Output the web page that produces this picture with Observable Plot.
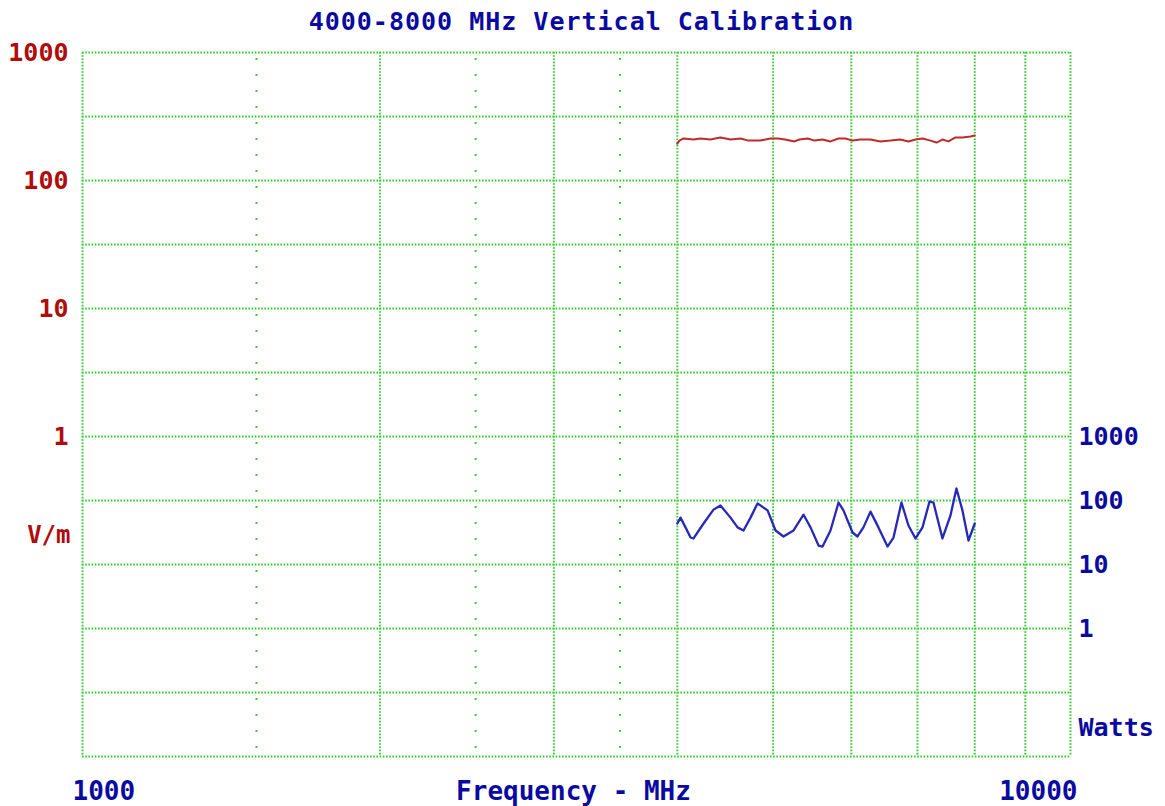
<!DOCTYPE html>
<html>
<head>
<meta charset="utf-8">
<script src="https://cdn.jsdelivr.net/npm/d3@7"></script>
<script src="https://cdn.jsdelivr.net/npm/@observablehq/plot@0.6"></script>
<style>
  html, body { margin: 0; padding: 0; background: #ffffff; }
  svg { display: block; }
</style>
</head>
<body>
<div id="chart"></div>
<script>
// ---- Data ----
const titleText = "4000-8000 MHz Vertical Calibration";
const xAxisTitle = "Frequency - MHz";

// E-field trace (V/m)
const fieldFreq = [4000,4020,4058,4154,4221,4320,4423,4528,4634,4722,4855,4969,5059,5141,5257,5316,5420,5508,5611,5716,5824,5918,6017,6130,6274,6423,6573,6727,6855,6968,7083,7217,7319,7420,7524,7648,7774,7921,8000];
const fieldVm   = [194,205,213,209,213,209,217,209,213,205,205,213,213,209,202,209,213,205,209,202,213,213,205,209,209,202,205,209,202,209,213,205,198,209,202,217,217,221,225];

// Forward power trace (Watts)
const powerFreq = [4000,4030,4077,4125,4154,4252,4352,4423,4528,4603,4667,4744,4822,4936,5029,5123,5244,5368,5456,5559,5611,5716,5824,5891,6017,6087,6172,6274,6392,6528,6620,6744,6855,6968,7083,7200,7266,7420,7559,7666,7774,7884,8000];
const powerW    = [43.7,54,38,26.4,25.5,43.7,72,83.5,54,38,34,54,90,70,34,27.4,34,60,38,19.8,19.1,34,93,70,31.6,27.4,38,67,38,19.1,26.4,93,40.7,25.5,38,96.5,93,25.5,58,154,70,23.7,43.7];

// Axes / grid
const vmTicks = [1000, 100, 10, 1];
const wattTicks = [1000, 100, 10, 1];
const hGridVm = [1000, 316.23, 100, 31.623, 10, 3.1623, 1, 0.31623, 0.1, 0.031623, 0.01, 0.0031623];
const majorFreqGrid = [1000, 2000, 3000, 4000, 5000, 6000, 7000, 8000, 9000, 10000];
const minorFreqGrid = [1500, 2500, 3500];
const xEndLabels = [1000, 10000];
const vmUnitLabel = {text: "V/m", value: 0.17};
const wattUnitLabel = {text: "Watts", value: 0.0053};

// ---- Helpers ----
const fieldData = fieldFreq.map((f, i) => ({f, v: fieldVm[i]}));
const powerData = powerFreq.map((f, i) => ({f, w: powerW[i]}));
const wattToVm = w => Math.sqrt(w / 1000); // same dB scale: 1 decade W = half decade V/m

const RED = "#b00c0c";
const BLUE = "#0a0aa0";
const GRID = "#33cc33";
const FONT = "DejaVu Sans Mono, monospace";

const chart = Plot.plot({
  width: 1165,
  height: 806,
  marginLeft: 82,
  marginRight: 95,
  marginTop: 52,
  marginBottom: 50,
  style: {background: "#ffffff", fontFamily: FONT},
  x: {type: "log", domain: [1000, 10000], axis: null},
  y: {type: "log", domain: [0.0031623, 1000], axis: null},
  marks: [
    Plot.ruleY(hGridVm, {y: d => d, stroke: GRID, strokeWidth: 2, strokeDasharray: "1.6 1.6"}),
    Plot.ruleX(majorFreqGrid, {x: d => d, stroke: GRID, strokeWidth: 2, strokeDasharray: "1.6 1.6"}),
    Plot.ruleX(minorFreqGrid, {x: d => d, stroke: GRID, strokeWidth: 2, strokeDasharray: "2 14", strokeDashoffset: -6}),
    Plot.line(fieldData, {x: "f", y: "v", stroke: "#c02a2a", strokeWidth: 2}),
    Plot.line(powerData, {x: "f", y: d => wattToVm(d.w), stroke: "#2828b8", strokeWidth: 2.3}),
    // Left V/m tick labels
    Plot.text(vmTicks, {y: d => d, text: d => String(d), frameAnchor: "left", textAnchor: "end", dx: -14,
      fill: RED, fontSize: 25, fontWeight: "bold", lineAnchor: "middle"}),
    Plot.text([vmUnitLabel], {y: "value", text: "text", frameAnchor: "left", textAnchor: "end", dx: -12,
      fill: RED, fontSize: 24, fontWeight: "bold", lineAnchor: "middle"}),
    // Right Watts tick labels
    Plot.text(wattTicks, {y: d => wattToVm(d), text: d => String(d), frameAnchor: "right", textAnchor: "start", dx: 8,
      fill: BLUE, fontSize: 25, fontWeight: "bold", lineAnchor: "middle"}),
    Plot.text([wattUnitLabel], {y: "value", text: "text", frameAnchor: "right", textAnchor: "start", dx: 8,
      fill: BLUE, fontSize: 25, fontWeight: "bold", lineAnchor: "middle"}),
    // Bottom labels
    Plot.text([xEndLabels[0]], {x: d => d, text: d => String(d), frameAnchor: "bottom", textAnchor: "start", dx: -10, dy: 35,
      fill: BLUE, fontSize: 26, fontWeight: "bold", lineAnchor: "middle"}),
    Plot.text([xEndLabels[1]], {x: d => d, text: d => String(d), frameAnchor: "bottom", textAnchor: "end", dx: 7, dy: 35,
      fill: BLUE, fontSize: 26, fontWeight: "bold", lineAnchor: "middle"}),
    Plot.text([xAxisTitle], {text: d => d, frameAnchor: "bottom", textAnchor: "middle", dx: -3, dy: 35,
      fill: BLUE, fontSize: 26, fontWeight: "bold", lineAnchor: "middle"}),
    // Title
    Plot.text([titleText], {text: d => d, frameAnchor: "top", textAnchor: "middle", dx: 5, dy: -31,
      fill: BLUE, fontSize: 25, fontWeight: "bold", lineAnchor: "middle"})
  ]
});
// widen the title slightly to match the reference's letter spacing
d3.select(chart).selectAll("text").filter(function () { return this.textContent === titleText; })
  .style("letter-spacing", "1px");
document.getElementById("chart").appendChild(chart);
</script>
</body>
</html>
